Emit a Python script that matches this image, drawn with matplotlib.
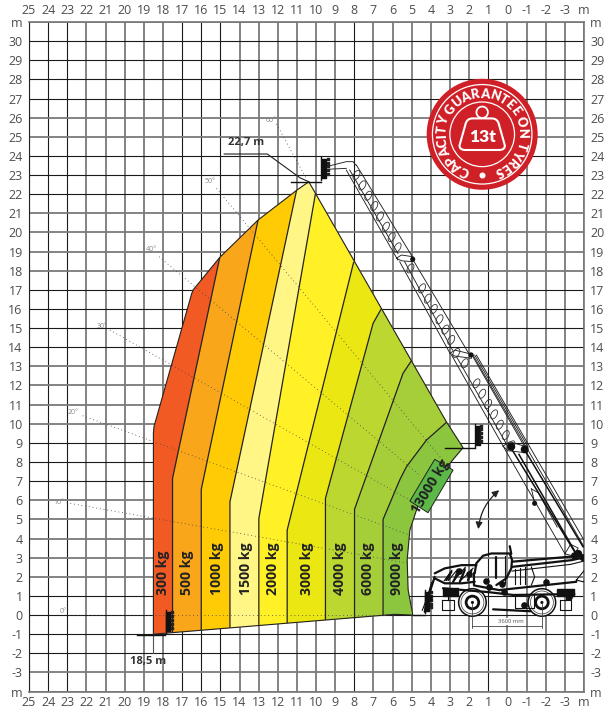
#!/usr/bin/env python
# coding: utf-8

import numpy as np
import matplotlib
matplotlib.use("Agg")
import matplotlib.pyplot as plt
from matplotlib import rcParams
from matplotlib.font_manager import FontProperties
from matplotlib.patches import Circle, Ellipse, Polygon, FancyArrowPatch, PathPatch
from matplotlib.path import Path
from matplotlib.textpath import text_to_path

rcParams['font.family'] = 'Open Sans'

# Axis labels
x_ticks = list(range(25, -4, -1)) + [-4]
x_labels = [str(v) for v in range(25, -4, -1)] + ["m"]
y_ticks = [31] + list(range(30, -4, -1)) + [-4]
y_labels = ["m"] + [str(v) for v in range(30, -4, -1)] + ["m"]
x_dark = [25, 24, 23, 17, 16, 15, 8, 1]
y_dark = [30, 29, 28, 27, 24, 23, 22, 17, 16, 15, 14, 9, 8, 7, 1, 0, -1, -2]

# Working envelope, metres
envelope_x = [18.5, 18.5, 18.47, 16.5, 16.42, 15.03, 13.03, 11.02, 10.38, 3.19, 2.32,
              3.01, 3.63, 4.58, 5.1, 5.24, 5.19, 4.96, 4.96, 5.89]
envelope_y = [-1.0, 9.5, 9.85, 16.8, 17.0, 18.7, 20.65, 22.2, 22.65, 10.1, 8.75,
              7.93, 7.32, 6.01, 4.44, 2.88, 1.31, 0.09, 0.0, 0.04]

# Limits between the load zones, bottom to top
limit_x = [
    [17.5, 17.5, 15.03],
    [16.0, 16.0, 13.03],
    [14.5, 14.5, 11.02],
    [12.99, 12.99, 10.03],
    [11.51, 11.51, 8.03],
    [9.51, 9.51, 7.02, 6.58],
    [7.99, 7.99, 5.46, 5.02],
    [6.5, 6.5, 5.63, 5.28, 4.23, 3.19],
]
limit_y = [
    [-0.9, 7.15, 18.7],
    [-0.78, 6.57, 20.65],
    [-0.66, 5.92, 22.2],
    [-0.56, 5.05, 22.04],
    [-0.42, 4.44, 18.47],
    [-0.26, 6.1, 15.25, 16.03],
    [-0.17, 5.53, 12.63, 13.29],
    [-0.05, 5.0, 7.06, 7.75, 9.15, 10.07],
]
zone_colors = ["#f15a22", "#faa61a", "#ffcb05", "#fff685", "#fff126",
               "#ebe713", "#bdd731", "#a6ce39", "#8cc63f"]

zone_labels = ["300 kg", "500 kg", "1000 kg", "1500 kg", "2000 kg", "3000 kg",
               "4000 kg", "6000 kg", "9000 kg"]
zone_label_x = [18.02, 16.75, 15.18, 13.67, 12.24, 10.48, 8.74, 7.28, 5.78]

# Boom angle lines
angle_labels = ["0°", "10°", "20°", "30°", "40°", "50°", "60°"]
angle_label_x = [23.24, 23.42, 22.7, 21.19, 18.6, 15.55, 12.33]
angle_label_y = [0.17, 5.87, 10.58, 15.1, 19.12, 22.65, 25.84]
angle_start_x = [22.9, 23.03, 22.2, 20.77, 18.2, 15.2, 12.07]
angle_start_y = [0.0, 5.87, 10.42, 14.9, 18.73, 22.3, 25.67]
angle_end_x = [5.9, 5.26, 5.1, 5.1, 4.58, 3.38, 10.5]
angle_end_y = [0.0, 2.72, 4.18, 6.0, 7.3, 8.1, 22.8]

# Boom drawing, metres
boom_thin = [
    ([9.46, 8.42, 8.07, 7.9], [23.44, 23.7, 23.7, 23.5]),
    ([9.46, 8.42], [23.3, 23.35]),
    ([8.42, 5.73], [23.26, 18.56]),
    ([8.24, 5.72], [23.26, 18.9]),
    ([7.89, 4.95], [23.52, 18.7]),
    ([5.8, 5.54, 4.93, 4.93, 5.54, 5.8], [18.65, 18.82, 18.73, 18.47, 18.52, 18.65]),
    ([5.63, 3.0], [18.47, 13.68]),
    ([5.37, 2.87], [18.47, 13.85]),
    ([4.93, 1.97], [18.56, 13.59]),
    ([3.0, 2.75, 1.88, 1.88, 2.75, 3.0], [13.68, 13.85, 13.64, 13.42, 13.54, 13.68]),
    ([2.92, 0.06], [13.59, 8.54]),
    ([2.66, -0.03], [13.5, 8.8]),
    ([1.8, -0.99], [13.5, 8.63]),
    ([1.71, -1.07], [13.59, 8.8]),
    ([0.23, -0.12, -1.07, -1.02, -0.03, 0.23], [8.83, 9.06, 8.77, 8.48, 8.59, 8.83]),
    ([0.06, -2.99], [8.54, 3.23]),
    ([1.8, -4.2], [13.59, 3.23]),
    ([1.62, -4.3], [13.59, 3.4]),
    ([-1.25, -1.3, -1.42], [6.6, 6.4, 5.84]),
    ([-1.25, -1.6, -2.6], [6.6, 6.4, 4.6]),
    ([-3.0, -3.3, -3.7, -3.4, -3.0], [3.2, 3.7, 3.5, 3.1, 3.2]),
]
boom_thick = [
    ([-0.2, -3.51], [8.71, 3.31]),
    ([-0.9, -3.95], [8.63, 3.57]),
    ([-0.6, -3.6], [8.4, 3.2]),
]
hole_x = [7.89, 7.58, 7.27, 6.96, 6.66, 6.35, 6.05, 5.74, 5.07, 4.46, 4.16, 3.85, 3.55,
          3.24, 2.94, 2.67, 2.23, 1.62, 1.32, 1.01, 0.7, 0.4, 0.09, -0.21]
hole_y = [23.0, 22.46, 21.92, 21.38, 20.84, 20.3, 19.76, 19.22, 18.12, 17.08, 16.54, 16.0,
          15.46, 14.92, 14.38, 13.7, 13.16, 12.11, 11.57, 11.03, 10.49, 9.95, 9.41, 8.87]
knot_x = [-0.2, -0.9, -1.42, 4.95, 1.9, -3.7, -3.95, -3.5]
knot_y = [8.8, 8.66, 5.84, 18.6, 13.6, 3.2, 3.0, 3.1]
knot_s = [22, 22, 7, 7, 7, 22, 16, 16]

# Fork carriages at the four reach positions
carriage_x = [9.72, 1.68, 17.86, 4.32]
carriage_top = [23.95, 10.0, 0.26, 1.3]
carriage_low = [22.75, 8.8, -0.95, 0.1]
arm_x = [[9.72, 11.3], [1.68, 3.28], [17.9, 19.38], [4.32, 4.95]]
arm_y = [[22.65, 22.65], [8.71, 8.71], [-1.05, -1.05], [0.03, 0.03]]

# Machine drawing, metres
wheel_x = [1.83, -1.8]
wheel_y = [0.66, 0.66]
machine_thick = [
    ([1.71, 1.63, 1.28, 0.84, -0.12, -0.24, -0.2, 0.06, 0.58], [2.18, 2.7, 3.1, 3.22, 3.22, 2.88, 2.44, 1.92, 1.57]),
    ([-0.24, -4.3], [2.79, 3.14]),
    ([-0.24, -3.34, -4.2], [2.52, 2.87, 3.05]),
    ([0.61, 0.61], [3.05, 1.94]),
    ([0.4, -3.6], [1.31, 1.74]),
    ([3.37, 1.0, -0.3, -3.5], [1.4, 1.2, 1.05, 1.1]),
    ([1.75, 1.75, 0.4], [2.2, 1.55, 1.3]),
    ([-0.2, -0.12], [3.2, 3.6]),
    ([3.8, 3.28, 2.4, 1.62], [2.18, 2.44, 2.61, 2.61]),
    ([3.8, 3.28, 2.4, 1.71], [1.92, 1.66, 1.66, 1.74]),
    ([3.8, 3.97, 4.23, 4.32], [2.0, 1.48, 0.7, 0.17]),
    ([0.75, -1.2], [0.3, 0.2]),
    ([3.2, 2.93], [1.83, 2.26]),
    ([2.84, 2.58], [1.74, 2.18]),
    ([2.49, 2.23], [1.74, 2.35]),
    ([2.06, 1.88], [1.83, 2.35]),
]
machine_thin = [
    ([0.15, 0.15], [3.1, 1.7]),
    ([-0.38, -0.38], [1.65, 2.4]),
    ([-0.64, -0.64], [1.6, 2.45]),
    ([-0.9, -0.9], [1.6, 2.5]),
    ([-1.25, -1.42, -1.25], [2.52, 2.0, 1.57]),
    ([-0.24, -3.3, -4.1], [2.3, 2.65, 2.85]),
    ([-3.6, -4.03, -4.39, -4.39, -3.95, -3.6], [1.83, 2.35, 2.35, 2.0, 1.74, 1.83]),
    ([-4.4, -4.4], [3.1, 2.35]),
    ([3.4, 3.4, 2.8, 2.8, 3.4], [0.78, 0.26, 0.26, 0.78, 0.78]),
    ([-2.73, -2.73, -3.34, -3.34, -2.73], [0.78, 0.26, 0.26, 0.78, 0.78]),
    ([3.1, 3.1], [1.1, 0.78]),
    ([-3.05, -3.05], [1.1, 0.78]),
    ([3.3, 2.9, 3.1, 2.6, 2.8, 2.2, 2.4, 1.8], [1.8, 2.35, 1.8, 2.4, 1.8, 2.5, 1.85, 2.45]),
    ([3.97, 4.2, 4.45], [1.7, 0.9, 0.25]),
    ([-0.4, -0.4, -1.4, -1.4], [1.1, 0.35, 0.35, 1.1]),
]
frame_x = [[3.37, 2.6, 2.6, 3.37], [-2.6, -3.5, -3.5, -2.6]]
frame_y = [[1.42, 1.42, 1.02, 1.02], [1.38, 1.38, 1.02, 1.02]]
machine_knot_x = [2.55, 2.0, 1.1, 0.95, 0.3, -2.0, -3.2, 4.1, -0.85, 0.2]
machine_knot_y = [2.3, 2.15, 1.8, 1.45, 1.65, 1.75, 0.95, 0.9, 0.55, 1.2]

# Wheelbase
wheelbase_label = "3600 mm"

# Badge
badge_text = "CAPACITY GUARANTEE ON TYRES"
badge_center = (1.32, 25.13)

fig = plt.figure(figsize=(6.16, 7.13), dpi=100)
ax = fig.add_axes([29 / 616, 1 - 691.6 / 713, (584 - 29) / 616, (691.6 - 22) / 713])
ax.set_xlim(25, -4)
ax.set_ylim(-4, 31)

ax.set_xticks(x_ticks)
ax.set_xticklabels(x_labels)
ax.set_yticks(y_ticks)
ax.set_yticklabels(y_labels)
ax.tick_params(axis='both', length=0, labelsize=9, labelcolor="#4d4d4d",
               labeltop=True, labelbottom=True, labelleft=True, labelright=True)
ax.tick_params(axis='x', pad=3.5)
ax.tick_params(axis='y', pad=4.5)
for spine in ax.spines.values():
    spine.set_color("#777777")
    spine.set_linewidth(1.2)
ax.spines['left'].set_color("#222222")
ax.spines['left'].set_linewidth(0.8)

# Grid, some lines dark and some soft like the scan
ax.grid(True)
ax.set_axisbelow(True)
for value, line in zip(x_ticks, ax.get_xgridlines()):
    if value in x_dark:
        line.set(color="#1a1a1a", linewidth=0.8)
    else:
        line.set(color="#7a7a7a", linewidth=1.3)
for value, line in zip(y_ticks, ax.get_ygridlines()):
    if value in y_dark:
        line.set(color="#1a1a1a", linewidth=0.8)
    else:
        line.set(color="#7a7a7a", linewidth=1.3)

# Load zones, painted from the left and clipped by the envelope
outline = Polygon(np.column_stack([envelope_x, envelope_y]), closed=True, fc="none",
                  ec="#222222", lw=0.8, zorder=4)
ax.add_patch(outline)
for i, color in enumerate(zone_colors):
    if i == 0:
        xs, ys = [30, -10, -10, 30], [-10, -10, 40, 40]
    else:
        lx, ly = limit_x[i - 1], limit_y[i - 1]
        xs = [lx[0]] + lx + [lx[-1], -10, -10]
        ys = [-10] + ly + [40, 40, -10]
    zone = Polygon(np.column_stack([xs, ys]), closed=True, fc=color, ec="none", zorder=2)
    ax.add_patch(zone)
    zone.set_clip_path(outline)
for lx, ly in zip(limit_x, limit_y):
    ax.plot(lx, ly, color="#222222", lw=0.9, zorder=4, solid_capstyle='butt')

for label, lx in zip(zone_labels, zone_label_x):
    ax.text(lx, 1.05, label, rotation=90, ha='center', va='bottom', fontsize=10.2,
            fontweight='bold', color="#222222", zorder=7)

# Angle lines
for i, label in enumerate(angle_labels):
    ax.plot([angle_start_x[i], angle_end_x[i]], [angle_start_y[i], angle_end_y[i]],
            color="#444444", lw=0.6, ls=(0, (1, 3.5)), zorder=5)
    ax.text(angle_label_x[i], angle_label_y[i], label, fontsize=5, color="#888888",
            ha='center', va='center', zorder=5)

# 13000 kg box
box = Polygon([[3.8, 8.14], [2.84, 7.58], [4.15, 5.35], [5.1, 5.96]], closed=True,
              fc="#5cb947", ec="#222222", lw=0.7, zorder=5)
ax.add_patch(box)
ax.text(4.01, 6.74, "13000 kg", rotation=59, ha='center', va='center', fontsize=10.2,
        fontweight='bold', color="#222222", rotation_mode='anchor', zorder=7)

# Reach labels
ax.text(13.67, 24.7, "22,7 m", fontsize=8, fontweight='bold', color="#333333",
        ha='center', va='center', zorder=7)
ax.plot([14.8, 12.55, 10.83, 10.38], [24.1, 24.1, 22.85, 22.65], color="#222222", lw=0.8, zorder=6)
ax.text(18.77, -2.45, "18,5 m", fontsize=8, fontweight='bold', color="#333333",
        ha='center', va='center', zorder=7)
ax.plot([18.5, 18.5], [-1, -2], color="#555555", lw=0.8, zorder=3)

# Boom
for xs, ys in boom_thin:
    ax.plot(xs, ys, color="#222222", lw=0.65, zorder=6)
for xs, ys in boom_thick:
    ax.plot(xs, ys, color="#111111", lw=1.1, zorder=6)
for hx, hy in zip(hole_x, hole_y):
    ax.add_patch(Ellipse((hx, hy), 0.52, 0.3, angle=119.5, fc="none", ec="#333333", lw=0.6, zorder=6))
ax.scatter(knot_x, knot_y, s=knot_s, color="#111111", zorder=6)

# Carriages
for i in range(len(carriage_x)):
    ax.plot([carriage_x[i], carriage_x[i]], [carriage_low[i], carriage_top[i]],
            color="#111111", lw=1.0, zorder=6)
    ax.plot(arm_x[i], arm_y[i], color="#111111", lw=1.0, zorder=6)
    rows = np.linspace(carriage_low[i] + 0.2, carriage_top[i] - 0.2, 5)
    ax.scatter(np.full(5, carriage_x[i]) - 0.13, rows, s=7, marker='s', color="#111111", zorder=6)
    ax.scatter(np.full(5, carriage_x[i]) - 0.32, rows + 0.1, s=3, marker='s', color="#222222", zorder=6)

# Tilt arrow
arrow = FancyArrowPatch((0.32, 6.62), (1.54, 4.35), arrowstyle='<|-|>', mutation_scale=10,
                        connectionstyle="arc3,rad=0.22", color="#222222", lw=0.9, zorder=6)
ax.add_patch(arrow)

# Machine
for xc, yc in zip(wheel_x, wheel_y):
    ax.add_patch(Circle((xc, yc), 0.72, fc="white", ec="#111111", lw=1.1, zorder=6))
    ax.add_patch(Circle((xc, yc), 0.6, fc="white", ec="#333333", lw=0.5, zorder=6))
    ax.add_patch(Circle((xc, yc), 0.33, fc="white", ec="#111111", lw=2.0, zorder=6))
    ax.add_patch(Circle((xc, yc), 0.08, fc="#111111", ec="none", zorder=6))
for xs, ys in machine_thick:
    ax.plot(xs, ys, color="#111111", lw=1.6, zorder=7, solid_capstyle='round')
for xs, ys in machine_thin:
    ax.plot(xs, ys, color="#111111", lw=0.8, zorder=7)
for xs, ys in zip(frame_x, frame_y):
    ax.fill(xs, ys, color="#111111", zorder=7)
ax.scatter(machine_knot_x, machine_knot_y, s=14, color="#111111", zorder=7)

# Wheelbase
ax.plot([wheel_x[0], wheel_x[0]], [0.6, -0.7], color="#444444", lw=0.6, zorder=6)
ax.plot([wheel_x[1], wheel_x[1]], [0.6, -0.7], color="#444444", lw=0.6, zorder=6)
ax.plot(wheel_x, [-0.56, -0.56], color="#444444", lw=0.6, zorder=6)
ax.text(-0.2, -0.33, wheelbase_label, fontsize=4.2, color="#555555", ha='center', va='center',
        zorder=6, bbox=dict(fc="white", ec="none", pad=0.5))

# Badge
red = "#cf2027"
bx, by = badge_center
ax.add_patch(Circle(badge_center, 2.9, fc=red, ec="none", zorder=8))
ax.add_patch(Circle(badge_center, 2.6, fc="none", ec="white", lw=0.9, zorder=9))
ax.add_patch(Circle(badge_center, 1.69, fc="none", ec="white", lw=0.9, zorder=9))

badge_font = FontProperties(family="Lato", weight="heavy", size=9.2)
widths = [text_to_path.get_text_width_height_descent(badge_text[:i], badge_font, False)[0]
          for i in range(len(badge_text) + 1)]
start, sweep = 252.0, 323.0
for i, ch in enumerate(badge_text):
    mid = (widths[i] + widths[i + 1]) / 2 / widths[-1]
    theta = start - sweep * mid
    tx = bx - 2.12 * np.cos(np.radians(theta))
    ty = by + 2.12 * np.sin(np.radians(theta))
    ax.text(tx, ty, ch, rotation=theta - 90, rotation_mode='anchor', ha='center', va='center',
            fontproperties=badge_font, color="white", zorder=10)
ax.scatter([bx], [by - 2.15], s=11, color="white", zorder=10)

# Weight icon on the badge
weight_verts = [(0.82, 25.96), (1.82, 25.96), (2.1, 25.96), (2.18, 25.7), (2.49, 24.6), (2.55, 24.4),
                (2.4, 24.31), (2.2, 24.31), (0.44, 24.31), (0.24, 24.31), (0.09, 24.4), (0.15, 24.6),
                (0.46, 25.7), (0.54, 25.96), (0.82, 25.96)]
weight_codes = [Path.MOVETO, Path.LINETO, Path.CURVE3, Path.CURVE3, Path.LINETO, Path.CURVE4, Path.CURVE4,
                Path.CURVE4, Path.LINETO, Path.CURVE4, Path.CURVE4, Path.CURVE4, Path.LINETO, Path.CURVE3,
                Path.CURVE3]
ax.add_patch(PathPatch(Path(weight_verts, weight_codes), fc=red, ec="white", lw=1.5, zorder=9))
ax.add_patch(Circle((bx, 26.28), 0.3, fc=red, ec="white", lw=1.3, zorder=9))
ax.text(bx, 24.97, "13t", fontproperties=FontProperties(family="Lato", weight="heavy", size=12.5),
        color="white", ha='center', va='center', zorder=10)

fig.savefig("out.png", dpi=100, facecolor="white")
